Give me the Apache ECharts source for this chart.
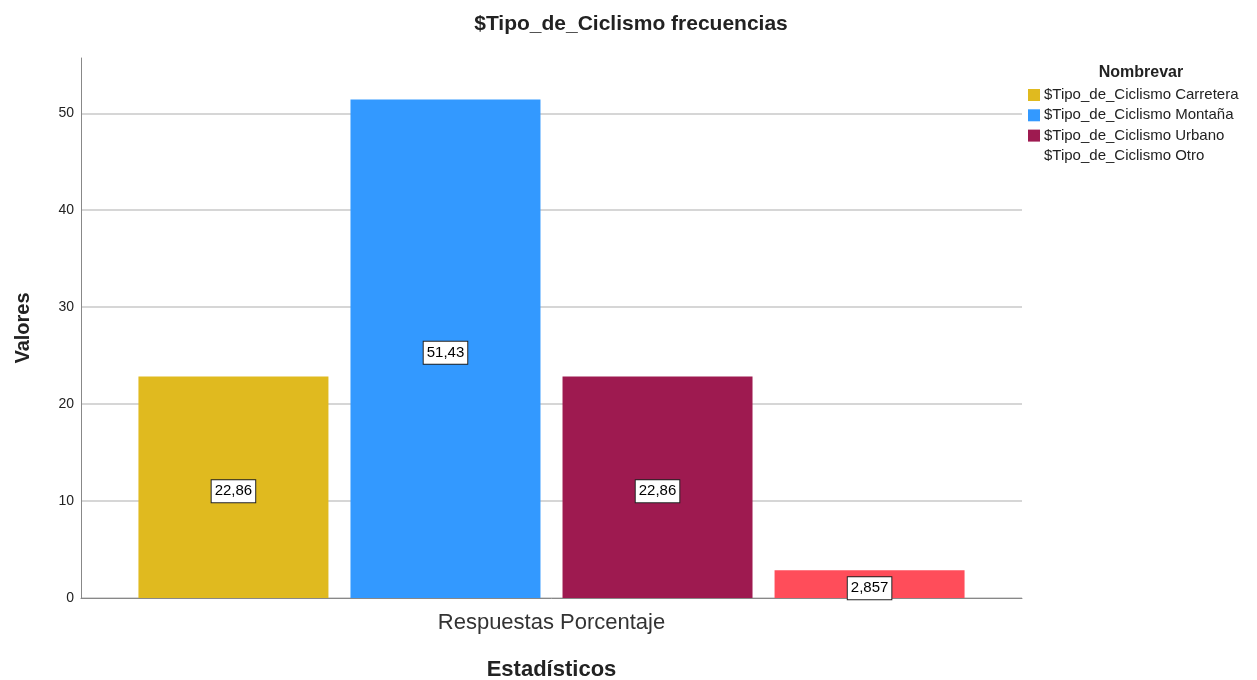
<!DOCTYPE html>
<html>
<head>
<meta charset="utf-8">
<script src="https://cdn.jsdelivr.net/npm/echarts@6/dist/echarts.min.js"></script>
<style>
  html, body { margin: 0; padding: 0; background: #fff; }
  #chart { width: 1257px; height: 680px; }
</style>
</head>
<body>
<div id="chart"></div>
<script>
// data
const categories = ["Respuestas Porcentaje"]
const seriesNames = [
  "$Tipo_de_Ciclismo Carretera",
  "$Tipo_de_Ciclismo Montaña",
  "$Tipo_de_Ciclismo Urbano",
  "$Tipo_de_Ciclismo Otro"
]
const seriesValues = [22.86, 51.43, 22.86, 2.857]
const seriesColors = ["#E0BA1F", "#3399FF", "#9E1A50", "#FF4D5A"]

const chart = echarts.init(document.getElementById("chart"))

const font = "Liberation Sans, Arial, sans-serif"

const series = seriesNames.map((name, i) => ({
  name: name,
  type: "bar",
  data: [seriesValues[i]],
  barWidth: 190,
  barGap: "11.6%",
  itemStyle: { color: seriesColors[i] },
  label: {
    show: true,
    position: "inside",
    offset: [0, 4],
    formatter: p => String(p.value).replace(".", ","),
    fontFamily: font,
    fontSize: 15,
    color: "#000",
    backgroundColor: "#fff",
    borderColor: "#222",
    borderWidth: 1,
    padding: [4, 3, 3, 3]
  }
}))

const option = {
  backgroundColor: "#fff",
  animation: false,
  title: [
    {
      text: "$Tipo_de_Ciclismo frecuencias",
      left: 626,
      textAlign: "center",
      top: 9,
      textStyle: { fontFamily: font, fontSize: 21, fontWeight: "bold", color: "#222" }
    },
    {
      text: "Nombrevar",
      left: 1136,
      textAlign: "center",
      top: 60,
      textStyle: { fontFamily: font, fontSize: 16, fontWeight: "bold", color: "#222" }
    }
  ],
  legend: {
    orient: "vertical",
    left: 1023,
    top: 82,
    itemWidth: 12,
    itemHeight: 12,
    itemGap: 4.3,
    icon: "rect",
    selectedMode: false,
    textStyle: { fontFamily: font, fontSize: 15, lineHeight: 16, color: "#222", padding: [0, 0, 0, -1] },
    data: seriesNames.map((n, i) => i === 3
      ? { name: n, itemStyle: { opacity: 0 } }
      : { name: n })
  },
  grid: { left: 81, right: 235, top: 58, bottom: 82, outerBoundsMode: "none" },
  xAxis: {
    type: "category",
    data: categories,
    name: "Estadísticos",
    nameLocation: "middle",
    nameGap: 61,
    nameTextStyle: { fontFamily: font, fontSize: 22, fontWeight: "bold", color: "#222" },
    axisLine: { lineStyle: { color: "#888" } },
    axisTick: { show: false },
    axisLabel: { fontFamily: font, fontSize: 22, color: "#333", margin: 14 }
  },
  yAxis: {
    type: "value",
    min: 0,
    max: 55.7,
    interval: 10,
    name: "Valores",
    nameLocation: "middle",
    nameGap: 48,
    nameTextStyle: { fontFamily: font, fontSize: 20, fontWeight: "bold", color: "#222" },
    axisLine: { show: true, lineStyle: { color: "#888" } },
    axisTick: { show: false },
    axisLabel: { fontFamily: font, fontSize: 14, color: "#222", margin: 7, showMaxLabel: false },
    splitLine: { showMaxLine: false, lineStyle: { color: "#c8c8c8", width: 1.5 } }
  },
  series: series
}

chart.setOption(option)
</script>
</body>
</html>
